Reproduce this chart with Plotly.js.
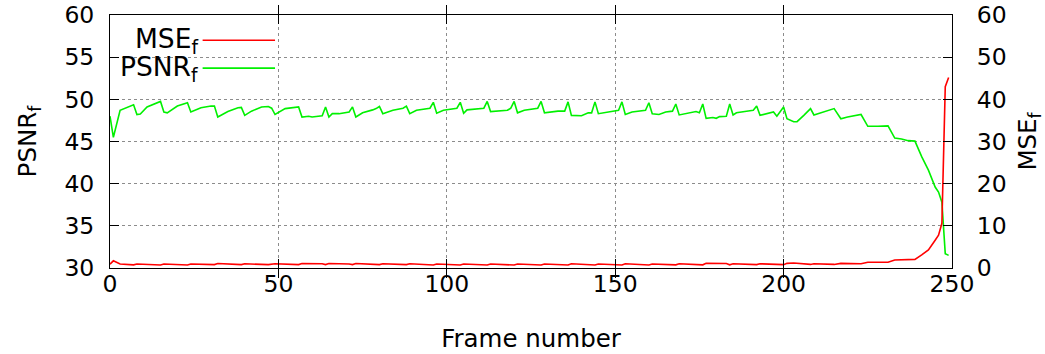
<!DOCTYPE html>
<html>
<head>
<meta charset="utf-8">
<script src="https://cdn.plot.ly/plotly-3.0.1.min.js"></script>
<style>html,body{margin:0;padding:0;background:#fff;}#chart{width:1045px;height:354px;}</style>
</head>
<body>
<div id="chart"></div>
<script>
// Frame numbers and values (vertices of the polylines)
const psnrFrames = [0,1,3,7,8,9,11,15,16,17,20,23,24,27,30,31,32,35,38,39,40,42,45,47,48,49,52,56,57,59,60,63,
  64,65,66,68,71,72,73,75,78,79,80,81,84,87,88,89,91,95,96,97,99,103,104,105,106,111,112,113,118,119,120,121,123,127,
  128,129,133,135,136,137,140,142,143,144,145,148,151,152,153,155,159,160,161,163,165,167,168,169,172,174,175,176,177,
  179,180,181,183,184,185,186,190,191,192,193,197,198,200,201,203,204,206,207,208,209,212,215,217,219,223,225,228,231,
  233,235,237,239,241,243,245,246,247,248,249];
const psnrValues = [48.0,45.5,48.7,49.35,48.2,48.25,49.1,49.75,48.5,48.4,49.2,49.6,48.5,49.0,49.2,49.2,47.9,48.55,49.0,49.05,48.1,48.6,49.1,49.15,48.95,48.2,48.9,49.1,47.9,48.0,47.9,48.05,
  49.1,47.9,48.3,48.3,48.5,49.1,47.9,48.4,48.75,48.9,49.15,48.3,48.7,48.95,49.2,48.3,48.7,48.95,49.65,48.35,48.7,48.95,49.65,48.35,48.75,48.95,49.75,48.55,48.7,48.95,49.75,48.4,48.7,48.95,
  49.75,48.4,48.6,48.6,49.7,48.1,48.05,48.4,48.4,49.7,48.3,48.5,48.7,49.7,48.2,48.5,48.7,49.6,48.3,48.2,48.5,48.6,49.45,48.15,48.35,48.55,48.4,49.45,47.75,
  47.85,47.75,47.95,48.0,49.45,48.15,48.4,48.65,48.7,49.2,48.1,48.5,48.0,49.1,47.7,47.35,47.35,48.1,48.5,48.9,48.15,48.5,48.9,47.7,47.9,48.2,46.8,46.8,46.85,
  45.4,45.3,45.1,45.05,43.2,41.6,39.6,39.0,37.8,31.7,31.5];

const mseFrames = [0,1,3,7,8,15,16,23,24,31,32,39,40,47,49,56,57,63,64,65,71,72,73,80,81,88,89,96,97,104,105,112,113,
  120,121,128,129,136,137,144,145,152,153,160,161,168,169,176,177,183,184,185,192,193,200,201,203,205,208,209,215,217,
  223,225,231,233,239,241,243,245,246,247,248,249];
const mseValues = [0.9,1.7,0.95,0.75,0.95,0.7,0.95,0.7,0.95,0.8,1.05,0.8,1.0,0.8,1.0,0.8,1.05,1.0,0.8,1.05,0.95,0.8,1.05,0.8,1.0,0.8,1.0,0.7,0.95,0.7,0.95,0.7,0.95,
  0.7,0.95,0.7,0.95,0.7,1.0,0.7,0.95,0.7,1.0,0.7,0.95,0.75,1.0,0.75,1.1,1.05,0.75,1.0,0.8,1.0,0.8,1.1,1.2,1.05,0.85,1.0,0.85,1.1,
  1.0,1.35,1.35,1.9,2.05,3.1,4.3,6.6,7.8,10.6,43.0,45.2];

const xTicks = [0,50,100,150,200,250];
const psnrTicks = [30,35,40,45,50,55,60];
const mseTicks = [0,10,20,30,40,50,60];

const FONT = 'DejaVu Sans, sans-serif';
const RED = '#ff0000', GREEN = '#00f000';
const TICKSIZE = 23.5;

const traces = [
  {x: mseFrames, y: mseValues, yaxis: 'y2', type: 'scatter', mode: 'lines', name: 'MSE<sub>f</sub>',
   line: {color: RED, width: 1.6}, showlegend: false},
  {x: psnrFrames, y: psnrValues, yaxis: 'y', type: 'scatter', mode: 'lines', name: 'PSNR<sub>f</sub>',
   line: {color: GREEN, width: 1.6}, showlegend: false}
];

const axisCommon = {
  showline: true, linecolor: '#000', linewidth: 1,
  ticks: 'inside', ticklen: 9, tickcolor: '#000', tickwidth: 1,
  tickfont: {family: FONT, size: TICKSIZE, color: '#000'},
  zeroline: false
};

const GRID = {showgrid: true, gridcolor: '#8c8c8c', griddash: 'dot', gridwidth: 1};

const layout = {
  width: 1045, height: 354,
  margin: {l: 110, r: 93, t: 15, b: 86},
  paper_bgcolor: '#fff', plot_bgcolor: '#fff',
  font: {family: FONT, color: '#000'},
  xaxis: Object.assign({}, axisCommon, GRID, {
    range: [0, 250], tickvals: xTicks, mirror: 'allticks',
    ticklabelstandoff: -5,
    title: {text: 'Frame number', font: {family: FONT, size: 24.5, color: '#000'}, standoff: 32}
  }),
  yaxis: Object.assign({}, axisCommon, GRID, {
    range: [30, 60], tickvals: psnrTicks, mirror: true,
    ticklabelstandoff: 10,
    title: {text: 'PSNR<sub>f</sub>', font: {family: FONT, size: 24.5, color: '#000'}, standoff: 20}
  }),
  yaxis2: Object.assign({}, axisCommon, {
    range: [0, 60], tickvals: mseTicks, overlaying: 'y', side: 'right',
    showgrid: false, ticklabelstandoff: 19,
    title: {text: 'MSE<sub>f</sub>', font: {family: FONT, size: 24.5, color: '#000'}, standoff: 16}
  }),
  showlegend: false,
  annotations: [
    {xref: 'paper', yref: 'paper', x: 0.107, y: 0.9, xanchor: 'right', yanchor: 'middle', showarrow: false,
     text: 'MSE<sub>f</sub>', font: {family: FONT, size: 26.5, color: '#000'}},
    {xref: 'paper', yref: 'paper', x: 0.107, y: 0.79, xanchor: 'right', yanchor: 'middle', showarrow: false,
     text: 'PSNR<sub>f</sub>', font: {family: FONT, size: 26.5, color: '#000'}}
  ],
  shapes: [
    {type: 'line', xref: 'paper', yref: 'paper', x0: 0.11, x1: 0.196, y0: 0.9, y1: 0.9, line: {color: RED, width: 1.6}},
    {type: 'line', xref: 'paper', yref: 'paper', x0: 0.11, x1: 0.196, y0: 0.79, y1: 0.79, line: {color: GREEN, width: 1.6}}
  ]
};

Plotly.newPlot('chart', traces, layout, {displayModeBar: false, staticPlot: true});
</script>
</body>
</html>
